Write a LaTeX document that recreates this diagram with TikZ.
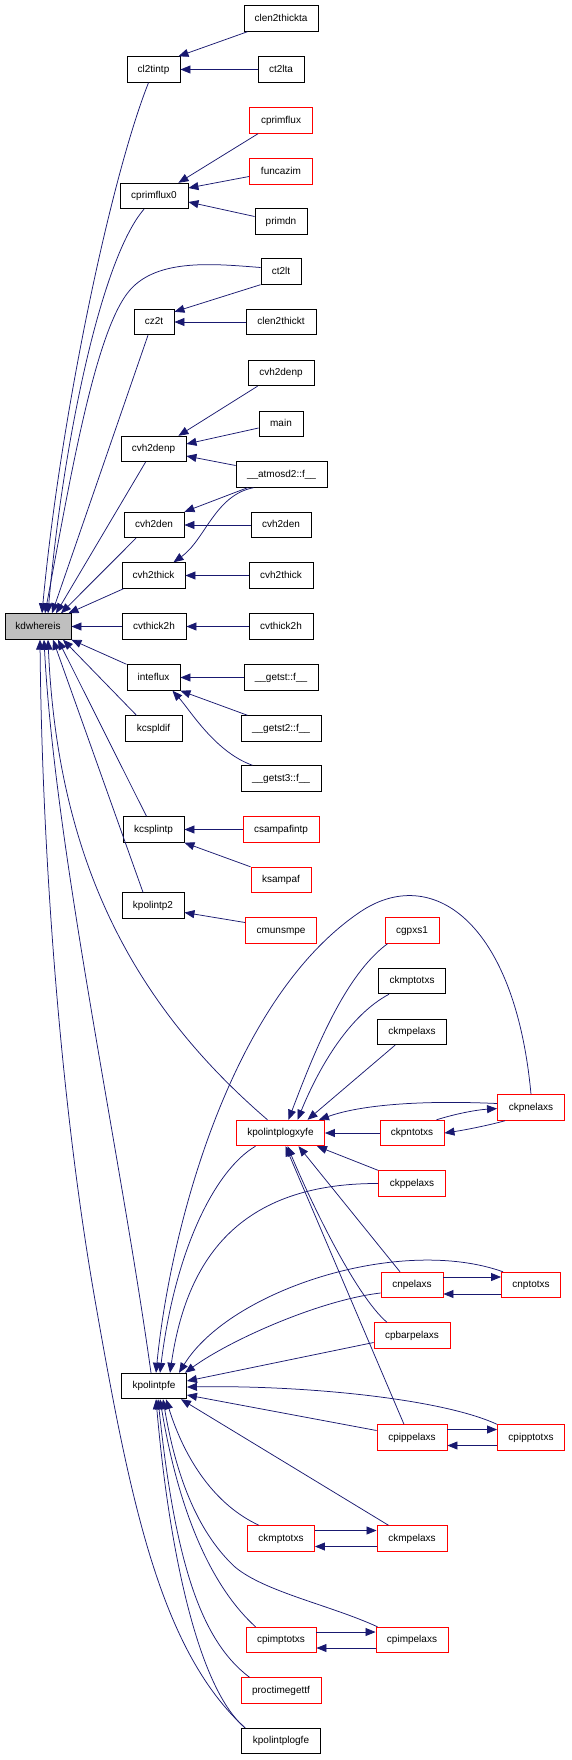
\documentclass[tikz,border=0pt]{standalone}
\usepackage{fontspec}
\setmainfont{Liberation Sans}
\usetikzlibrary{arrows.meta}
\definecolor{edgec}{HTML}{191970}
\definecolor{redc}{HTML}{FF0000}
\definecolor{greyc}{HTML}{BFBFBF}
\begin{document}
\begin{tikzpicture}[x=1pt,y=-1pt,
  bx/.style={draw=black,line width=0.9pt,rectangle,inner sep=0pt,minimum height=25.5pt,
    font=\fontsize{10}{12}\selectfont,text height=7.3pt,text depth=2pt},
  rbx/.style={bx,draw=redc},
  ed/.style={draw=edgec,line width=0.75pt,{Triangle[length=10pt,width=8pt]}-}]
\useasboundingbox (0,0) rectangle (571,1760);
% nodes
\node[bx,fill=greyc,minimum width=66pt] (kdw) at (38,626.5) {kdwhereis};
\node[bx,minimum width=53pt] (cl2tintp) at (153.5,69.5) {cl2tintp};
\node[bx,minimum width=74pt] (clen2thickta) at (281,18.5) {clen2thickta};
\node[bx,minimum width=46pt] (ct2lta) at (281,69.5) {ct2lta};
\node[rbx,minimum width=63pt] (cprimflux) at (281,120.5) {cprimflux};
\node[rbx,minimum width=63pt] (funcazim) at (281,171.5) {funcazim};
\node[bx,minimum width=68pt] (cprimflux0) at (154,196) {cprimflux0};
\node[bx,minimum width=52pt] (primdn) at (281,221.5) {primdn};
\node[bx,minimum width=40pt] (ct2lt) at (281,271.5) {ct2lt};
\node[bx,minimum width=40pt] (cz2t) at (154,322) {cz2t};
\node[bx,minimum width=70pt] (clen2thickt) at (281,322) {clen2thickt};
\node[bx,minimum width=66pt] (cvh2denpR) at (281,373) {cvh2denp};
\node[bx,minimum width=44pt] (main) at (281,424) {main};
\node[bx,minimum width=65pt] (cvh2denpL) at (153.5,449) {cvh2denp};
\node[bx,minimum width=91pt] (atmos) at (281.5,474.5) {\_\_atmosd2::f\_\_};
\node[bx,minimum width=60pt] (cvh2denL) at (154,525) {cvh2den};
\node[bx,minimum width=60pt] (cvh2denR) at (281,525) {cvh2den};
\node[bx,minimum width=63pt] (cvh2thickL) at (153.5,575.5) {cvh2thick};
\node[bx,minimum width=64pt] (cvh2thickR) at (281,575.5) {cvh2thick};
\node[bx,minimum width=64pt] (cvthL) at (154,626.5) {cvthick2h};
\node[bx,minimum width=64pt] (cvthR) at (281,626.5) {cvthick2h};
\node[bx,minimum width=53pt] (inteflux) at (153.5,677.5) {inteflux};
\node[bx,minimum width=74pt] (getst) at (281,677.5) {\_\_getst::f\_\_};
\node[bx,minimum width=80pt] (getst2) at (281,728.5) {\_\_getst2::f\_\_};
\node[bx,minimum width=57pt] (kcspldif) at (153.5,728.5) {kcspldif};
\node[bx,minimum width=80pt] (getst3) at (281,778.5) {\_\_getst3::f\_\_};
\node[bx,minimum width=61pt] (kcsplintp) at (153.5,829.5) {kcsplintp};
\node[rbx,minimum width=76pt] (csampafintp) at (281,829.5) {csampafintp};
\node[rbx,minimum width=60pt] (ksampaf) at (281,880) {ksampaf};
\node[bx,minimum width=62pt] (kpolintp2) at (153,905.5) {kpolintp2};
\node[rbx,minimum width=71pt] (cmunsmpe) at (281,930.5) {cmunsmpe};
\node[rbx,minimum width=54pt] (cgpxs1) at (412,930.5) {cgpxs1};
\node[bx,minimum width=67pt] (ckmptotxsB) at (412,981) {ckmptotxs};
\node[bx,minimum width=69pt] (ckmpelaxsB) at (412,1032) {ckmpelaxs};
\node[rbx,minimum width=67pt] (ckpnelaxs) at (531,1107.5) {ckpnelaxs};
\node[rbx,minimum width=88pt] (kplxyfe) at (280.5,1133) {kpolintplogxyfe};
\node[rbx,minimum width=64pt] (ckpntotxs) at (412,1133) {ckpntotxs};
\node[rbx,minimum width=67pt] (ckppelaxs) at (412,1183.5) {ckppelaxs};
\node[rbx,minimum width=62pt] (cnpelaxs) at (412,1285) {cnpelaxs};
\node[rbx,minimum width=59pt] (cnptotxs) at (531,1285) {cnptotxs};
\node[rbx,minimum width=76pt] (cpbarpelaxs) at (412,1335.5) {cpbarpelaxs};
\node[bx,minimum width=65pt] (kpfe) at (154,1386) {kpolintpfe};
\node[rbx,minimum width=70pt] (cpippelaxs) at (412,1437.5) {cpippelaxs};
\node[rbx,minimum width=67pt] (cpipptotxs) at (531,1437.5) {cpipptotxs};
\node[rbx,minimum width=67pt] (ckmptotxsR) at (281,1538.5) {ckmptotxs};
\node[rbx,minimum width=70pt] (ckmpelaxsR) at (412,1538.5) {ckmpelaxs};
\node[rbx,minimum width=70pt] (cpimptotxs) at (281,1640) {cpimptotxs};
\node[rbx,minimum width=72pt] (cpimpelaxs) at (412,1640) {cpimpelaxs};
\node[rbx,minimum width=80pt] (proctime) at (281,1690.5) {proctimegettf};
\node[bx,minimum width=79pt] (kplfe) at (281,1741) {kpolintplogfe};
% edges into kdwhereis
\draw[ed] ([xshift=4pt]kdw.north) .. controls (60,420) and (110,180) .. ([xshift=-5pt]cl2tintp.south);
\draw[ed] ([xshift=7pt]kdw.north) .. controls (70,480) and (95,330) .. (130,290) .. controls (158,258) and (215,264) .. ([yshift=4pt]ct2lt.west);
\draw[ed] ([xshift=10pt]kdw.north) .. controls (62,450) and (100,260) .. ([xshift=-10pt]cprimflux0.south);
\draw[ed] ([xshift=14pt]kdw.north) -- ([xshift=-6pt]cz2t.south);
\draw[ed] ([xshift=18pt]kdw.north) -- ([xshift=-8pt]cvh2denpL.south);
\draw[ed] ([xshift=23pt]kdw.north) -- ([xshift=-18pt]cvh2denL.south);
\draw[ed] ([xshift=-3pt]kdw.north east) -- ([xshift=2pt]cvh2thickL.south west);
\draw[ed] (kdw.east) -- (cvthL.west);
\draw[ed] (kdw.south east) -- (inteflux.north west);
\draw[ed] ([xshift=25pt]kdw.south) -- ([xshift=-17pt]kcspldif.north);
\draw[ed] ([xshift=20pt]kdw.south) -- ([xshift=-7pt]kcsplintp.north);
\draw[ed] ([xshift=15pt]kdw.south) -- ([xshift=-10pt]kpolintp2.north);
\draw[ed] ([xshift=10pt]kdw.south) .. controls (58,870) and (140,1010) .. ([xshift=-13pt]kplxyfe.north);
\draw[ed] ([xshift=6pt]kdw.south) .. controls (55,850) and (120,1150) .. ([xshift=-3pt]kpfe.north);
\draw[ed] ([xshift=2pt]kdw.south) .. controls (42,850) and (60,1100) .. (95,1300) .. controls (130,1500) and (160,1650) .. ([xshift=4pt]kplfe.north west);
% upper column edges
\draw[ed] ([xshift=-2pt]cl2tintp.north east) -- ([xshift=4pt]clen2thickta.south west);
\draw[ed] (cl2tintp.east) -- (ct2lta.west);
\draw[ed] ([xshift=-10pt]cprimflux0.north east) -- ([xshift=9pt]cprimflux.south west);
\draw[ed] ([yshift=8pt]cprimflux0.east) -- ([yshift=-5pt]funcazim.west);
\draw[ed] ([yshift=-6pt]cprimflux0.east) -- ([yshift=5pt]primdn.west);
\draw[ed] ([yshift=-3pt]cz2t.north east) -- (ct2lt.south west);
\draw[ed] (cz2t.east) -- (clen2thickt.west);
\draw[ed] ([xshift=-8pt]cvh2denpL.north east) -- ([xshift=10pt]cvh2denpR.south west);
\draw[ed] ([yshift=5pt]cvh2denpL.east) -- ([yshift=-4pt]main.west);
\draw[ed] ([yshift=-7pt]cvh2denpL.east) -- ([yshift=9pt]atmos.west);
\draw[ed] (cvh2denL.north east) -- ([xshift=12pt]atmos.south west);
\draw[ed] (cvh2denL.east) -- (cvh2denR.west);
\draw[ed] ([xshift=20pt]cvh2thickL.north) .. controls (205,540) and (215,495) .. ([xshift=18pt]atmos.south west);
\draw[ed] (cvh2thickL.east) -- (cvh2thickR.west);
\draw[ed] (cvthL.east) -- (cvthR.west);
\draw[ed] (inteflux.east) -- (getst.west);
\draw[ed] (inteflux.south east) -- ([xshift=7pt]getst2.north west);
\draw[ed] ([xshift=-8pt]inteflux.south east) .. controls (190,710) and (215,752) .. ([xshift=12pt]getst3.north west);
\draw[ed] (kcsplintp.east) -- (csampafintp.west);
\draw[ed] (kcsplintp.south east) -- (ksampaf.north west);
\draw[ed] ([yshift=-7pt]kpolintp2.east) -- ([yshift=8pt]cmunsmpe.west);
% kpolintplogxyfe callers
\draw[ed] ([xshift=8pt]kplxyfe.north) .. controls (315,1050) and (345,975) .. ([xshift=3pt]cgpxs1.south west);
\draw[ed] ([xshift=17pt]kplxyfe.north) .. controls (320,1065) and (350,1015) .. ([xshift=11pt]ckmptotxsB.south west);
\draw[ed] ([xshift=27pt]kplxyfe.north) -- ([xshift=18pt]ckmpelaxsB.south west);
\draw[ed] ([xshift=-6pt]kplxyfe.north east) .. controls (360,1105) and (420,1100) .. ([yshift=4pt]ckpnelaxs.west);
\draw[ed] (kplxyfe.east) -- (ckpntotxs.west);
\draw[ed] ([yshift=-1pt]ckpnelaxs.west) .. controls (475,1110) and (455,1114) .. ([xshift=-8pt]ckpntotxs.north east);
\draw[ed] (ckpntotxs.east) .. controls (465,1130) and (490,1125) .. ([xshift=8pt]ckpnelaxs.south west);
\draw[ed] ([xshift=-8pt]kplxyfe.south east) -- (ckppelaxs.north west);
\draw[ed] ([xshift=18pt]kplxyfe.south) -- ([xshift=-12pt]cnpelaxs.north);
\draw[ed] ([xshift=7pt]kplxyfe.south) .. controls (310,1200) and (355,1295) .. ([xshift=-25pt]cpbarpelaxs.north);
\draw[ed] ([xshift=5pt]kplxyfe.south) -- ([xshift=-8pt]cpippelaxs.north);
% kpolintpfe callers (upper)
\draw[ed] ([xshift=2pt]kpfe.north) .. controls (170,1230) and (230,1000) .. (360,912) .. controls (431,864) and (515,920) .. (ckpnelaxs.north);
\draw[ed] ([xshift=6pt]kpfe.north) .. controls (175,1250) and (215,1170) .. ([xshift=-25pt]kplxyfe.south);
\draw[ed] ([xshift=16pt]kpfe.north) .. controls (185,1270) and (230,1183) .. (ckppelaxs.west);
\draw[ed] ([xshift=25pt]kpfe.north) .. controls (230,1290) and (400,1235) .. ([xshift=2pt]cnptotxs.north west);
\draw[ed] ([xshift=-2pt]kpfe.north east) .. controls (230,1340) and (320,1300) .. ([yshift=-8pt]cnpelaxs.west);
\draw[ed] ([yshift=5pt]kpfe.east) -- ([yshift=-7pt]cpbarpelaxs.west);
\draw[ed] ([yshift=-1pt]kpfe.east) .. controls (300,1385) and (440,1398) .. (cpipptotxs.north west);
\draw[ed] ([yshift=-9pt]kpfe.east) -- ([yshift=7pt]cpippelaxs.west);
\draw[ed] ([yshift=8pt]cnptotxs.west) -- ([yshift=8pt]cnpelaxs.east);
\draw[ed] ([yshift=-9pt]cnpelaxs.east) -- ([yshift=-9pt]cnptotxs.west);
\draw[ed] ([yshift=8pt]cpipptotxs.west) -- ([yshift=8pt]cpippelaxs.east);
\draw[ed] ([yshift=-8pt]cpippelaxs.east) -- ([yshift=-8pt]cpipptotxs.west);
% kpolintpfe callers (lower)
\draw[ed] ([xshift=-6pt]kpfe.south east) -- ([xshift=12pt]ckmpelaxsR.north west);
\draw[ed] ([xshift=12pt]kpfe.south) .. controls (185,1460) and (215,1505) .. ([xshift=12pt]ckmptotxsR.north west);
\draw[ed] ([yshift=8pt]ckmpelaxsR.west) -- ([yshift=8pt]ckmptotxsR.east);
\draw[ed] ([yshift=-8pt]ckmptotxsR.east) -- ([yshift=-8pt]ckmpelaxsR.west);
\draw[ed] ([xshift=9pt]kpfe.south) .. controls (175,1470) and (195,1530) .. (235,1567) .. controls (265,1592) and (330,1605) .. ([xshift=2pt]cpimpelaxs.north west);
\draw[ed] ([xshift=6pt]kpfe.south) .. controls (180,1520) and (215,1590) .. ([xshift=10pt]cpimptotxs.north west);
\draw[ed] ([yshift=8pt]cpimpelaxs.west) -- ([yshift=8pt]cpimptotxs.east);
\draw[ed] ([yshift=-8pt]cpimptotxs.east) -- ([yshift=-8pt]cpimpelaxs.west);
\draw[ed] ([xshift=4pt]kpfe.south) .. controls (175,1560) and (200,1640) .. ([xshift=9pt]proctime.north west);
\draw[ed] ([xshift=2pt]kpfe.south) .. controls (170,1560) and (200,1690) .. ([xshift=4pt]kplfe.north west);
\end{tikzpicture}
\end{document}
